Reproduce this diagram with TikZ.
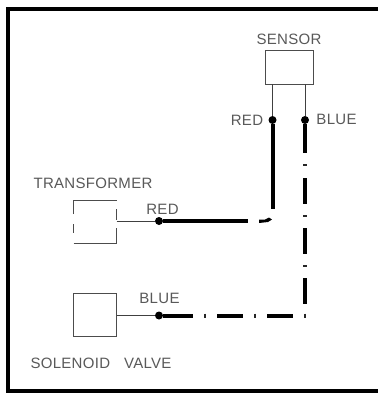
\documentclass[tikz,border=0pt]{standalone}
\usepackage{fontspec}
\setmainfont[LetterSpace=2]{Liberation Sans}
\tikzset{
  x=1pt,y=-1pt,
  frameline/.style={line width=4pt,line cap=butt},
  thin wire/.style={line width=0.7pt,draw=black!75},
  boxline/.style={line width=0.8pt,draw=black!70},
  thick wire/.style={line width=4pt,line cap=butt},
  tick/.style={line width=1.2pt,draw=black!85},
  junction/.style={circle,fill=black,inner sep=0pt,minimum size=8pt},
  lbl/.style={font=\fontsize{15}{15}\selectfont,text=black!65,inner sep=0pt},
}
\begin{document}
\begin{tikzpicture}
\useasboundingbox (0,0) rectangle (378,394);
\fill[white] (0,0) rectangle (378,394);
\draw[frameline] (378,9) -- (8,9) -- (8,390.5) -- (378,390.5);
% sensor
\node[draw=black!70,line width=0.7pt,minimum width=48pt,minimum height=34pt,inner sep=0pt] (sensor) at (289,67) {};
\node[lbl] (sensorlbl) at (289,39) {SENSOR};
\coordinate (sr) at (272.5,84);
\coordinate (sb) at (305,84);
\node[junction] (jr) at (272.5,120) {};
\node[junction] (jb) at (305,120) {};
\draw[thin wire] (sr) -- (jr);
\draw[thin wire] (sb) -- (jb);
\node[lbl] (redr) at (247,120) {RED};
\node[lbl] (blueb) at (336.5,119) {BLUE};
% transformer
\node[lbl] (translbl) at (93,183.5) {TRANSFORMER};
\draw[boxline] (73.7,214) -- (73.7,200) -- (116.7,200);
\draw[boxline] (73.7,224) -- (73.7,233);
\draw[boxline] (73.7,243) -- (116.7,243) -- (116.7,228);
\draw[boxline] (116.7,209) -- (116.7,220);
\coordinate (tr) at (116.7,221);
\node[junction] (jt) at (159,221) {};
\draw[thin wire] (tr) -- (jt);
\node[lbl] (redt) at (162.5,209.5) {RED};
% solenoid
\node[draw=black!70,line width=0.7pt,minimum width=43pt,minimum height=43pt,inner sep=0pt] (valve) at (95,315) {};
\node[junction] (jv) at (159,315.5) {};
\draw[thin wire] (valve.east |- jv) -- (jv);
\node[lbl] (bluev) at (159.5,298) {BLUE};
\node[lbl] (valvelbl) at (101,363.5) {SOLENOID\hspace{14pt}VALVE};
% thick wires
\draw[thick wire] (jt) -- (248,221);
\fill (259,219.5) -- (265,219.5) -- (269,217.5) -- (272,219.5) -- (268,222) -- (259,223) -- cycle;
\draw[thick wire] (jr) -- (272.5,209);
\draw[thick wire] (jb) -- (305,153);
\draw[thick wire] (305,178) -- (305,204);
\draw[thick wire] (305,228) -- (305,254);
\draw[thick wire] (305,278) -- (305,304);
\draw[tick] (303,165) -- (307,165);
\draw[tick] (303,216) -- (307,216);
\draw[tick] (303,266) -- (307,266);
\draw[thick wire] (jv) -- (193,315.5);
\draw[thick wire] (217,315.5) -- (243,315.5);
\draw[thick wire] (267,315.5) -- (293,315.5);
\draw[tick] (205,313.5) -- (205,317.5);
\draw[tick] (255,313.5) -- (255,317.5);
\draw[tick] (305,313.5) -- (305,317.5);
\end{tikzpicture}
\end{document}
